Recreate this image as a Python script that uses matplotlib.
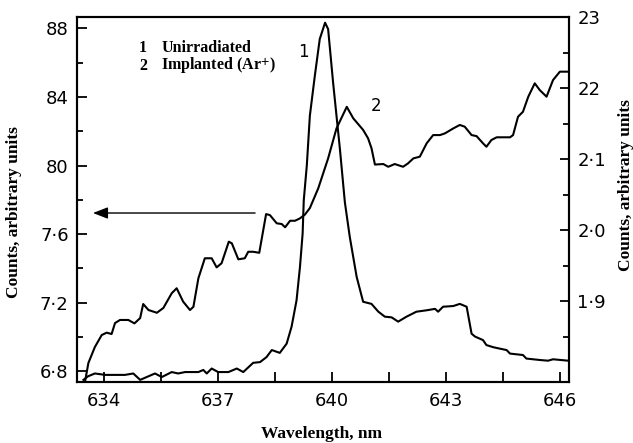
import matplotlib
matplotlib.use("Agg")
import matplotlib.pyplot as plt
from matplotlib.ticker import FixedLocator

plt.rcParams['mathtext.fontset'] = 'stix'

# Curve 2: Implanted (Ar+), left axis
wl_implanted = [633.51, 633.60, 633.77, 633.95, 634.08, 634.21, 634.30, 634.43, 634.65, 634.81,
                634.96, 635.04, 635.18, 635.40, 635.57, 635.79, 635.92, 636.09, 636.27, 636.36,
                636.49, 636.66, 636.84, 636.97, 637.10, 637.29, 637.37, 637.54, 637.71, 637.80,
                637.93, 638.09, 638.27, 638.37, 638.55, 638.68, 638.77, 638.90, 639.03, 639.16,
                639.29, 639.42, 639.64, 639.90, 640.12, 640.39, 640.56, 640.82, 640.95, 641.04,
                641.13, 641.35, 641.48, 641.65, 641.87, 642.00, 642.14, 642.31, 642.49, 642.66,
                642.84, 642.97, 643.19, 643.36, 643.49, 643.67, 643.80, 643.97, 644.06, 644.19,
                644.33, 644.68, 644.76, 644.89, 645.02, 645.16, 645.33, 645.46, 645.64, 645.81,
                645.99, 646.21]
counts_implanted = [6.737, 6.848, 6.941, 7.011, 7.025, 7.017, 7.081, 7.099, 7.099, 7.079,
                    7.110, 7.192, 7.157, 7.141, 7.169, 7.255, 7.284, 7.206, 7.157, 7.176,
                    7.342, 7.459, 7.459, 7.406, 7.430, 7.556, 7.546, 7.453, 7.459, 7.497,
                    7.497, 7.491, 7.717, 7.711, 7.663, 7.659, 7.640, 7.678, 7.678, 7.692,
                    7.714, 7.752, 7.867, 8.042, 8.217, 8.343, 8.276, 8.208, 8.159, 8.101,
                    8.006, 8.009, 7.993, 8.009, 7.993, 8.013, 8.042, 8.052, 8.130, 8.178,
                    8.178, 8.188, 8.217, 8.237, 8.227, 8.178, 8.172, 8.130, 8.110, 8.149,
                    8.165, 8.165, 8.178, 8.285, 8.314, 8.402, 8.480, 8.441, 8.402, 8.499,
                    8.548, 8.548]

# Curve 1: Unirradiated, right axis
wl_unirr = [633.47, 633.59, 633.77, 634.04, 634.30, 634.56, 634.78, 634.96, 635.35, 635.53,
            635.79, 635.96, 636.14, 636.49, 636.62, 636.71, 636.84, 637.01, 637.28, 637.50,
            637.67, 637.93, 638.11, 638.28, 638.42, 638.63, 638.81, 638.94, 639.07, 639.16,
            639.23, 639.26, 639.34, 639.42, 639.55, 639.68, 639.82, 639.90, 640.03, 640.21,
            640.34, 640.47, 640.65, 640.82, 641.04, 641.22, 641.39, 641.57, 641.74, 641.96,
            642.22, 642.49, 642.71, 642.79, 642.92, 643.19, 643.36, 643.54, 643.67, 643.76,
            643.97, 644.06, 644.24, 644.41, 644.59, 644.68, 645.02, 645.11, 645.46, 645.68,
            645.81, 646.21]
counts_unirr = [1.789, 1.794, 1.798, 1.796, 1.796, 1.796, 1.798, 1.789, 1.798, 1.793,
                1.800, 1.798, 1.800, 1.800, 1.803, 1.798, 1.805, 1.800, 1.800, 1.805,
                1.800, 1.813, 1.814, 1.821, 1.831, 1.827, 1.840, 1.864, 1.901, 1.948,
                1.995, 2.042, 2.091, 2.161, 2.217, 2.269, 2.292, 2.283, 2.208, 2.114,
                2.039, 1.990, 1.934, 1.899, 1.896, 1.885, 1.878, 1.877, 1.871, 1.878,
                1.885, 1.887, 1.889, 1.885, 1.892, 1.893, 1.896, 1.892, 1.854, 1.850,
                1.845, 1.838, 1.835, 1.833, 1.831, 1.826, 1.824, 1.819, 1.817, 1.816,
                1.818, 1.816]

x_major = [634, 637, 640, 643, 646]
x_labels = ["634", "637", "640", "643", "646"]
x_minor = [635.5, 638.5, 641.5, 644.5]

left_major = [6.8, 7.2, 7.6, 8.0, 8.4, 8.8]
left_labels = ["6·8", "7·2", "7·6", "80", "84", "88"]
left_minor = [7.0, 7.4, 7.8, 8.2, 8.6]

right_major = [1.9, 2.0, 2.1, 2.2, 2.3]
right_labels = ["1·9", "2·0", "2·1", "22", "23"]
right_minor = [1.85, 1.95, 2.05, 2.15, 2.25]

fig = plt.figure(figsize=(6.33, 4.43), dpi=100)
ax = fig.add_axes([0.1216, 0.1377, 0.7773, 0.8239])
ax2 = ax.twinx()

lw = 1.5
ax.plot(wl_implanted, counts_implanted, color='black', lw=lw)
ax2.plot(wl_unirr, counts_unirr, color='black', lw=lw)

ax.set_xlim(633.30, 646.23)
ax.set_ylim(6.737, 8.867)
ax2.set_ylim(1.786, 2.2986)

tickfont = dict(family='DejaVu Sans', size=13)

ax.set_xticks(x_major)
ax.set_xticklabels(x_labels, **tickfont)
ax.xaxis.set_minor_locator(FixedLocator(x_minor))
ax.set_yticks(left_major)
ax.set_yticklabels(left_labels, **tickfont)
ax.yaxis.set_minor_locator(FixedLocator(left_minor))
ax2.set_yticks(right_major)
ax2.set_yticklabels(right_labels, **tickfont)
ax2.yaxis.set_minor_locator(FixedLocator(right_minor))

ax.tick_params(axis='x', which='both', direction='in', length=7, width=1.3, pad=7, top=False)
ax.tick_params(axis='y', which='major', direction='in', length=7, width=1.3, pad=6, right=False)
ax.tick_params(axis='y', which='minor', direction='in', length=4.3, width=1.3, right=False)
ax2.tick_params(axis='y', which='major', direction='in', length=6.5, width=1.3, pad=6)
ax2.tick_params(axis='y', which='minor', direction='in', length=4, width=1.3)

for a in (ax, ax2):
    for s in a.spines.values():
        s.set_linewidth(1.5)

labfont = dict(family='Liberation Serif', weight='bold', size=12.5)
ax.set_ylabel("Counts, arbitrary units", **labfont)
ax.yaxis.set_label_coords(-0.112, 0.466)
ax2.set_ylabel("Counts, arbitrary units", rotation=90, **labfont)
ax2.yaxis.set_label_coords(1.100, 0.54)
ax.set_xlabel("Wavelength, nm", **labfont)
ax.xaxis.set_label_coords(0.498, -0.12)

legfont = dict(family='Liberation Serif', weight='bold', size=11.5)
ax.text(0.126, 0.915, "1", transform=ax.transAxes, va='center', ha='left', **legfont)
ax.text(0.171, 0.915, "Unirradiated", transform=ax.transAxes, va='center', ha='left', **legfont)
ax.text(0.126, 0.866, "2", transform=ax.transAxes, va='center', ha='left', **legfont)
ax.text(0.171, 0.866, r"Implanted (Ar$^{\mathbf{+}}$)", transform=ax.transAxes,
        va='center', ha='left', **legfont)

ax.text(0.461, 0.904, "1", transform=ax.transAxes, ha='center', va='center',
        family='DejaVu Sans', size=12)
ax.text(0.608, 0.756, "2", transform=ax.transAxes, ha='center', va='center',
        family='DejaVu Sans', size=12)

ax.annotate("", xy=(0.0325, 0.463), xytext=(0.362, 0.463),
            xycoords='axes fraction', textcoords='axes fraction',
            arrowprops=dict(arrowstyle='-|>,head_length=0.9,head_width=0.35',
                            color='black', lw=1.0, shrinkA=0, shrinkB=0))

fig.savefig("out.png", dpi=100)
